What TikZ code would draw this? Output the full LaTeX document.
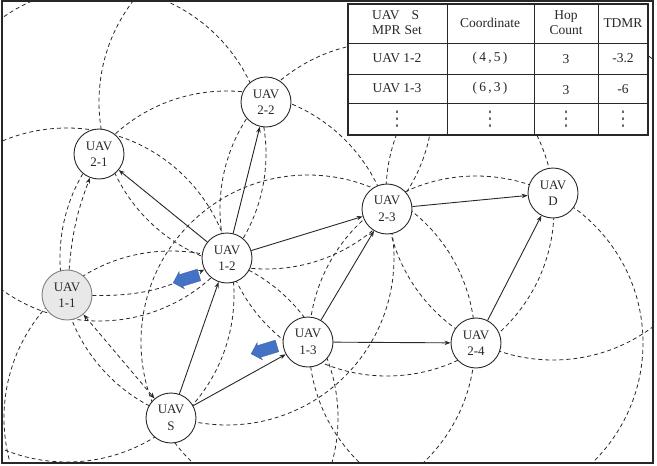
\documentclass[tikz,border=0pt]{standalone}
\usepackage{fontspec}
\setmainfont{Liberation Serif}
\newfontfamily\dejavu{DejaVu Sans}
\usetikzlibrary{arrows.meta,shapes.arrows}
\definecolor{uavblue}{RGB}{68,114,196}
\definecolor{inkc}{RGB}{40,40,40}
\definecolor{grayfill}{RGB}{232,232,232}
\begin{document}
\begin{tikzpicture}[x=1pt,y=-1pt,
  uav/.style={circle,draw=inkc,line width=0.9pt,fill=white,minimum size=50pt,inner sep=0pt,
     align=center,font=\fontsize{13}{16.5}\selectfont,text=inkc},
  rangecircle/.style={draw=inkc,line width=0.8pt,dash pattern=on 4pt off 3pt},
  link/.style={draw=inkc,line width=0.9pt,-{Stealth[length=6pt,width=4.5pt]}},
  dlink/.style={draw=inkc,line width=0.8pt,dash pattern=on 4pt off 3pt,-{Stealth[length=6pt,width=4.5pt]}},
  bluearrow/.style={single arrow,fill=uavblue,draw=uavblue!80!black,line width=0.3pt,minimum height=27pt,
     minimum width=18pt,single arrow head extend=2.5pt,inner sep=5pt,single arrow head indent=1pt},
  cell/.style={font=\fontsize{13.5}{15}\selectfont,text=inkc,align=center,inner sep=0pt}
]
\useasboundingbox (0,0) rectangle (657,466);
% node centres
\coordinate (cS) at (171,418);
\coordinate (c11) at (67,295);
\coordinate (c12) at (227,258);
\coordinate (c13) at (308,342);
\coordinate (c21) at (99,154);
\coordinate (c22) at (266,102);
\coordinate (c23) at (387,209);
\coordinate (c24) at (476,343);
\coordinate (cD) at (553,193);
% range circles
\begin{scope}
\clip (2,1) rectangle (653,463);
\foreach \c in {cS,c11,c12,c13,c21,c22,c23,c24,cD}
  \draw[rangecircle] (\c) circle (167);
\end{scope}
% frame
\draw[inkc,line width=1.2pt] (2,1) rectangle (653,463);
% UAV nodes
\node[uav] (S) at (cS) {UAV\\S};
\node[uav,fill=grayfill,draw=gray] (U11) at (c11) {UAV\\1-1};
\node[uav] (U12) at (c12) {UAV\\1-2};
\node[uav] (U13) at (c13) {UAV\\1-3};
\node[uav] (U21) at (c21) {UAV\\2-1};
\node[uav] (U22) at (c22) {UAV\\2-2};
\node[uav] (U23) at (c23) {UAV\\2-3};
\node[uav] (U24) at (c24) {UAV\\2-4};
\node[uav] (D) at (cD) {UAV\\D};
% solid links
\draw[link] (S) -- (U12);
\draw[link] (S) -- (U13);
\draw[link] (U12) -- (U21);
\draw[link] (U12) -- (U22);
\draw[link] (U12) -- (U23);
\draw[link] (U13) -- (U23);
\draw[link] (U13) -- (U24);
\draw[link] (U23) -- (D);
\draw[link] (U24) -- (D);
% dashed links from UAV 1-1
\draw[dlink] (U11) to[bend left=8] (U21);
\draw[dlink] (U11) to[bend right=14] (U12);
\draw[dlink,{Stealth[length=6pt,width=4.5pt]}-{Stealth[length=6pt,width=4.5pt]}] (U11) -- (S);
% blue block arrows
\node[bluearrow,rotate=197] (b1) at (189,278) {};
\node[bluearrow,rotate=197] (b2) at (267,349) {};
% table
\fill[white] (348,4) rectangle (648,135);
\draw[inkc,line width=0.7pt] (348,43) -- (648,43) (348,74) -- (648,74) (348,103) -- (648,103)
  (447,4) -- (447,135) (534,4) -- (534,135) (598,4) -- (598,135);
\draw[inkc,line width=1.1pt] (348,4) rectangle (648,135);
\node[cell,align=left] (h1) at (397,23) {UAV\hspace{0.9em}S\\MPR\hspace{0.3em}Set};
\node[cell] (h2) at (490,23) {Coordinate};
\node[cell] (h3) at (566,23) {Hop\\Count};
\node[cell] (h4) at (623,23) {TDMR};
\node[cell] (r1a) at (397,58) {UAV 1-2};
\node[cell] (r1b) at (490,58) {(\,4\,,\,5\,)};
\node[cell] (r1c) at (566,59) {3};
\node[cell] (r1d) at (623,58) {-3.2};
\node[cell] (r2a) at (397,88) {UAV 1-3};
\node[cell] (r2b) at (490,88) {(\,6\,,\,3\,)};
\node[cell] (r2c) at (566,90) {3};
\node[cell] (r2d) at (623,89) {-6};
\foreach \x/\n in {397/a,490/b,566/c,623/d}
  \node[cell] (r3\n) at (\x,119) {\scalebox{1}[1.5]{\dejavu ⋮}};
\end{tikzpicture}
\end{document}
